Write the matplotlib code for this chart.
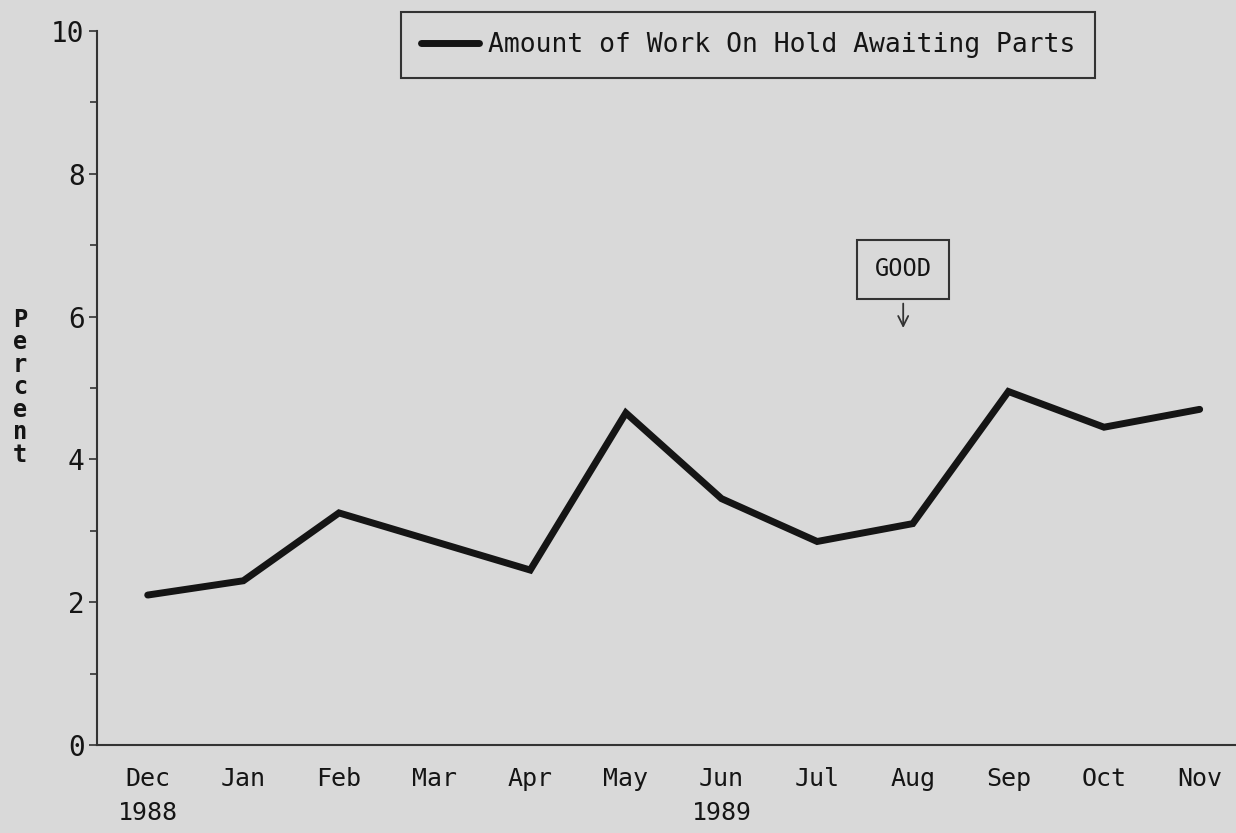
import matplotlib.pyplot as plt

# data
months = ["Dec", "Jan", "Feb", "Mar", "Apr", "May", "Jun", "Jul", "Aug", "Sep", "Oct", "Nov"]
years = {0: "1988", 6: "1989"}
work_on_hold = [2.10, 2.30, 3.25, 2.85, 2.45, 4.65, 3.45, 2.85, 3.10, 4.95, 4.45, 4.70]
y_ticks = [0, 2, 4, 6, 8, 10]
y_minor = [1, 3, 5, 7, 9]
series_label = "Amount of Work On Hold Awaiting Parts"
note_text = "GOOD"
note_x = 7.9

bg = "#d9d9d9"
ink = "#151515"
font = "DejaVu Sans Mono"

fig = plt.figure(figsize=(12.36, 8.33), dpi=100, facecolor=bg)
ax = fig.add_axes([0.0785, 0.1056, 0.9215, 0.8574], facecolor=bg)

x = list(range(len(months)))
ax.plot(x, work_on_hold, color=ink, linewidth=5, solid_joinstyle="miter",
        solid_capstyle="round", label=series_label)

ax.set_xlim(-0.53, 11.38)
ax.set_ylim(0, 10)

tick_labels = [m + ("\n" + years[i] if i in years else "") for i, m in enumerate(months)]
ax.set_xticks(x)
ax.set_xticklabels(tick_labels, fontfamily=font, fontsize=18, color=ink, linespacing=1.5)
ax.tick_params(axis="x", length=0, pad=16)

ax.set_yticks(y_ticks)
ax.set_yticks(y_minor, minor=True)
ax.set_yticklabels([str(v) for v in y_ticks], fontfamily=font, fontsize=20, color=ink)
ax.tick_params(axis="y", which="major", length=6, width=1.2, color="#333333", pad=3)
ax.tick_params(axis="y", which="minor", length=5, width=1.2, color="#333333")

for side in ["top", "right"]:
    ax.spines[side].set_visible(False)
for side in ["left", "bottom"]:
    ax.spines[side].set_color("#333333")
    ax.spines[side].set_linewidth(1.5)

# stacked y label
fig.text(0.016, 0.535, "\n".join("Percent"), fontfamily=font, fontsize=17,
         fontweight="bold", color=ink, ha="center", va="center", linespacing=0.92)

leg = ax.legend(loc="upper left", bbox_to_anchor=(0.3244, 0.9856),
                bbox_transform=fig.transFigure, borderaxespad=0,
                prop={"family": font, "size": 19}, handlelength=2.2,
                handletextpad=0.35, borderpad=0.75, fancybox=False,
                framealpha=1, facecolor=bg, edgecolor="#333333")
leg.get_frame().set_linewidth(1.5)
for t in leg.get_texts():
    t.set_color(ink)

# "GOOD" note with arrow
ax.annotate("", xy=(note_x, 5.8), xytext=(note_x, 6.22),
            arrowprops=dict(arrowstyle="->", color="#333333", lw=1.3,
                            mutation_scale=18))
ax.text(note_x, 6.66, note_text, fontfamily=font, fontsize=17, color=ink,
        ha="center", va="center",
        bbox=dict(boxstyle="square,pad=0.75", facecolor=bg, edgecolor="#333333", linewidth=1.5))

fig.savefig("out.png", dpi=100, facecolor=bg)
